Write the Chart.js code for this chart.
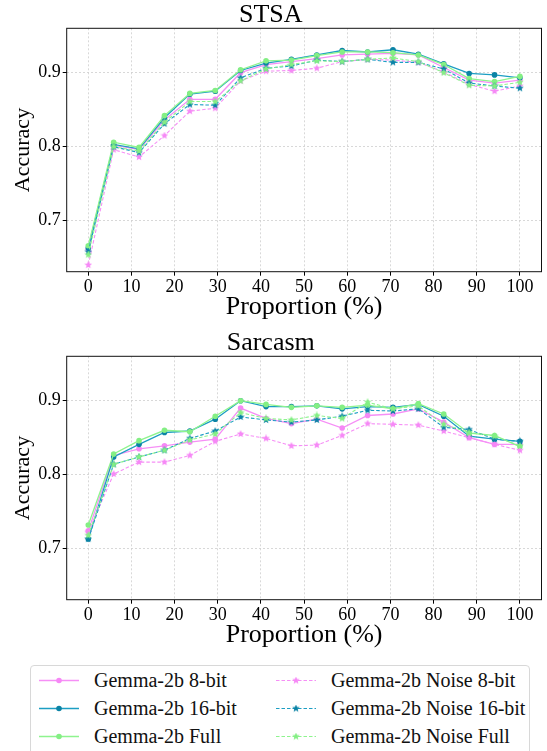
<!DOCTYPE html>
<html>
<head>
<meta charset="utf-8">
<script src="https://cdn.jsdelivr.net/npm/chart.js@4/dist/chart.umd.min.js"></script>
<style>
  html, body { margin: 0; padding: 0; background: #fff; }
  body { width: 547px; height: 751px; position: relative; overflow: hidden; font-family: 'Liberation Serif', 'Times New Roman', serif; }
  .box { position: absolute; left: 0; width: 547px; height: 330px; }
  #legend { position: absolute; left: 30px; top: 665px; width: 498px; height: 100px; border: 1px solid #d8d8d8; border-radius: 4px; background: #fff; }
  .item { position: absolute; height: 24px; font-size: 20px; line-height: 24px; color: #111; white-space: nowrap; }
  .item canvas { position: absolute; left: 0; top: 0; }
  .item span { position: absolute; left: 56px; top: 0; }
</style>
</head>
<body>
<div class="box" style="top:0px"><canvas id="stsa"></canvas></div>
<div class="box" style="top:328px"><canvas id="sarcasm"></canvas></div>
<div id="legend"></div>
<script>
// proportion of data used (%)
var proportions = [0, 5.88, 11.76, 17.65, 23.53, 29.41, 35.29, 41.18, 47.06, 52.94, 58.82, 64.71, 70.59, 76.47, 82.35, 88.24, 94.12, 100];
var xTicks = [0, 10, 20, 30, 40, 50, 60, 70, 80, 90, 100];
var yTicks = [0.7, 0.8, 0.9];

var seriesNames = ['Gemma-2b 8-bit', 'Gemma-2b 16-bit', 'Gemma-2b Full',
                   'Gemma-2b Noise 8-bit', 'Gemma-2b Noise 16-bit', 'Gemma-2b Noise Full'];

// STSA
var stsa8 =      [0.661, 0.802, 0.796, 0.836, 0.864, 0.864, 0.900, 0.911, 0.915, 0.919, 0.924, 0.925, 0.926, 0.924, 0.907, 0.890, 0.886, 0.890];
var stsa16 =     [0.663, 0.803, 0.797, 0.839, 0.871, 0.875, 0.903, 0.913, 0.918, 0.924, 0.930, 0.928, 0.931, 0.925, 0.912, 0.899, 0.897, 0.893];
var stsaFull =   [0.666, 0.806, 0.799, 0.842, 0.872, 0.876, 0.904, 0.916, 0.917, 0.923, 0.928, 0.928, 0.927, 0.924, 0.911, 0.892, 0.888, 0.895];
var stsaN8 =     [0.640, 0.796, 0.786, 0.815, 0.848, 0.852, 0.889, 0.902, 0.903, 0.906, 0.915, 0.918, 0.917, 0.914, 0.901, 0.884, 0.875, 0.882];
var stsaN16 =    [0.658, 0.800, 0.792, 0.831, 0.857, 0.856, 0.893, 0.906, 0.909, 0.917, 0.915, 0.918, 0.914, 0.914, 0.905, 0.886, 0.882, 0.879];
var stsaNFull =  [0.654, 0.800, 0.794, 0.833, 0.861, 0.861, 0.889, 0.905, 0.911, 0.916, 0.915, 0.918, 0.920, 0.915, 0.900, 0.883, 0.882, 0.887];

// Sarcasm
var sarc8 =      [0.724, 0.826, 0.835, 0.839, 0.844, 0.848, 0.890, 0.876, 0.869, 0.875, 0.863, 0.880, 0.882, 0.889, 0.871, 0.850, 0.841, 0.841];
var sarc16 =     [0.713, 0.824, 0.841, 0.857, 0.859, 0.875, 0.900, 0.892, 0.892, 0.893, 0.889, 0.892, 0.891, 0.895, 0.879, 0.852, 0.848, 0.845];
var sarcFull =   [0.732, 0.828, 0.846, 0.860, 0.858, 0.879, 0.900, 0.895, 0.891, 0.893, 0.891, 0.894, 0.889, 0.896, 0.882, 0.856, 0.853, 0.838];
var sarcN8 =     [0.722, 0.801, 0.817, 0.817, 0.826, 0.845, 0.855, 0.849, 0.839, 0.840, 0.853, 0.869, 0.868, 0.867, 0.859, 0.850, 0.841, 0.833];
var sarcN16 =    [0.713, 0.814, 0.824, 0.833, 0.849, 0.859, 0.878, 0.874, 0.871, 0.874, 0.879, 0.887, 0.886, 0.889, 0.864, 0.861, 0.848, 0.845];
var sarcNFull =  [0.718, 0.814, 0.824, 0.833, 0.847, 0.855, 0.884, 0.876, 0.874, 0.880, 0.876, 0.898, 0.889, 0.893, 0.868, 0.857, 0.852, 0.839];

var lineColors = ['#f68ff6', '#1c9ec3', '#8ef48e', '#f68ff6', '#1c9ec3', '#8ef48e'];
var pointColors = ['#f688f6', '#0b83a5', '#84ef84', '#f688f6', '#0b83a5', '#84ef84'];
var dashed = [false, false, false, true, true, true];

var serif = "'Liberation Serif', 'Times New Roman', serif";
Chart.defaults.font.family = serif;
Chart.defaults.color = '#000';

// small filled star, like matplotlib '*'
function starMarker(color, size) {
  var c = document.createElement('canvas');
  c.width = size; c.height = size;
  var g = c.getContext('2d');
  var cx = size / 2, cy = size / 2, ro = size / 2, ri = ro * 0.45;
  g.beginPath();
  for (var i = 0; i < 10; i++) {
    var r = i % 2 ? ri : ro;
    var a = -Math.PI / 2 + i * Math.PI / 5;
    g.lineTo(cx + r * Math.cos(a), cy + r * Math.sin(a));
  }
  g.closePath();
  g.fillStyle = color;
  g.fill();
  return c;
}

function makeDatasets(series) {
  return series.map(function (vals, i) {
    return {
      label: seriesNames[i],
      data: proportions.map(function (p, j) { return { x: p, y: vals[j] }; }),
      borderColor: lineColors[i],
      backgroundColor: pointColors[i],
      borderWidth: dashed[i] ? 1.1 : 1.3,
      borderDash: dashed[i] ? [3.5, 2] : [],
      pointStyle: dashed[i] ? starMarker(pointColors[i], 8) : 'circle',
      pointRadius: dashed[i] ? 4 : 2.8,
      pointBorderWidth: 0,
      pointBackgroundColor: pointColors[i],
      tension: 0,
      order: 6 - i
    };
  });
}

var frame = {
  id: 'frame',
  afterDraw: function (chart) {
    var a = chart.chartArea, ctx = chart.ctx;
    ctx.save();
    ctx.strokeStyle = '#111';
    ctx.lineWidth = 1;
    ctx.strokeRect(a.left, a.top, a.right - a.left, a.bottom - a.top);
    ctx.restore();
  }
};

function makeChart(id, title, series) {
  return new Chart(document.getElementById(id), {
    type: 'line',
    data: { datasets: makeDatasets(series) },
    plugins: [frame],
    options: {
      responsive: true,
      maintainAspectRatio: false,
      animation: false,
      layout: { padding: { left: 0, right: 5.5, top: 0, bottom: 0 } },
      plugins: {
        legend: { display: false },
        tooltip: { enabled: false },
        title: {
          display: true, text: title, color: '#000',
          font: { family: serif, size: 26, weight: 'normal', lineHeight: 1 },
          padding: { top: 2, bottom: 0.3 }
        }
      },
      scales: {
        x: {
          type: 'linear', min: -5, max: 105,
          afterBuildTicks: function (s) { s.ticks = xTicks.map(function (v) { return { value: v }; }); },
          afterFit: function (s) { s.height = 58.3; },
          ticks: { color: '#000', font: { family: serif, size: 18 }, padding: 1, maxRotation: 0 },
          grid: { color: '#cfcfcf', lineWidth: 0.8, tickColor: '#000', tickLength: 4, tickWidth: 1 },
          border: { display: false, dash: [2, 2] },
          title: { display: true, text: 'Proportion (%)', color: '#000',
                   font: { family: serif, size: 26, lineHeight: 1.2 }, padding: { top: 0, bottom: 7 } }
        },
        y: {
          type: 'linear', min: 0.631, max: 0.96,
          afterBuildTicks: function (s) { s.ticks = yTicks.map(function (v) { return { value: v }; }); },
          afterFit: function (s) { s.width = 66.7; },
          ticks: { color: '#000', font: { family: serif, size: 18 }, padding: 2,
                   callback: function (v) { return v.toFixed(1); } },
          grid: { color: '#cfcfcf', lineWidth: 0.8, tickColor: '#000', tickLength: 4, tickWidth: 1 },
          border: { display: false, dash: [2, 2] },
          title: { display: true, text: 'Accuracy', color: '#000',
                   font: { family: serif, size: 22, lineHeight: 1.2 }, padding: { top: 10, bottom: 0 } }
        }
      }
    }
  });
}

makeChart('stsa', 'STSA', [stsa8, stsa16, stsaFull, stsaN8, stsaN16, stsaNFull]);
makeChart('sarcasm', 'Sarcasm', [sarc8, sarc16, sarcFull, sarcN8, sarcN16, sarcNFull]);

// legend: two columns, filled column by column
var legend = document.getElementById('legend');
seriesNames.forEach(function (name, i) {
  var col = Math.floor(i / 3), row = i % 3;
  var item = document.createElement('div');
  item.className = 'item';
  item.style.left = (col === 0 ? 7 : 244) + 'px';
  item.style.top = (2 + row * 28) + 'px';
  var c = document.createElement('canvas');
  c.width = 42; c.height = 24;
  var g = c.getContext('2d');
  g.strokeStyle = lineColors[i];
  g.lineWidth = dashed[i] ? 1.1 : 1.3;
  g.setLineDash(dashed[i] ? [3.5, 2] : []);
  g.beginPath(); g.moveTo(1, 12.5); g.lineTo(41, 12.5); g.stroke();
  if (dashed[i]) {
    g.drawImage(starMarker(pointColors[i], 8), 17, 8.5);
  } else {
    g.fillStyle = pointColors[i];
    g.beginPath(); g.arc(21, 12.5, 2.8, 0, Math.PI * 2); g.fill();
  }
  item.appendChild(c);
  var t = document.createElement('span');
  t.textContent = name;
  item.appendChild(t);
  legend.appendChild(item);
});
</script>
</body>
</html>
